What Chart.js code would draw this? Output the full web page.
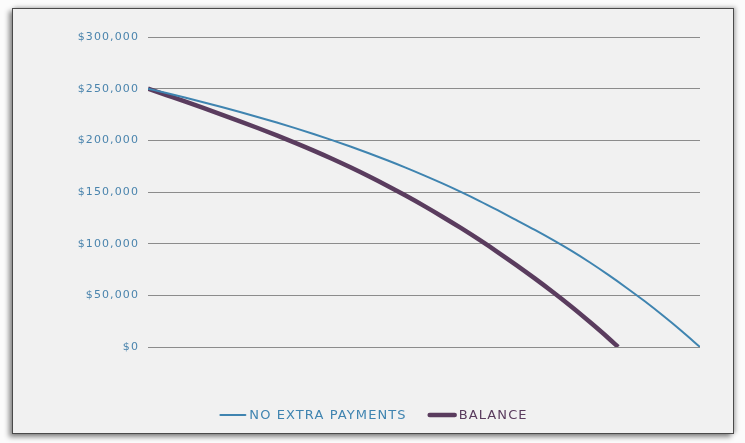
<!DOCTYPE html>
<html>
<head>
<meta charset="utf-8">
<script src="https://cdn.jsdelivr.net/npm/chart.js@4/dist/chart.umd.min.js"></script>
<style>
  html,body{margin:0;padding:0;background:#fbfbfb;}
  .frame{position:absolute;left:12px;top:8px;width:720px;height:424px;
    border:1px solid #4a4a4a;background:#f1f1f1;
    box-shadow:-3px 3px 5px rgba(0,0,0,0.45), 2px -1px 4px rgba(0,0,0,0.25);}
  .wrap{position:absolute;left:0;top:0;width:745px;height:443px;}
</style>
</head>
<body>
<div class="frame"></div>
<div class="wrap"><canvas id="amortChart"></canvas></div>
<script>
// years into the loan
const years = [0,1,2,3,4,5,6,7,8,9,10,11,12,13,14,15,16,17,18,19,20,21,22,23,24,25,26,27,28,29,30];
const balanceYears = [0,1,2,3,4,5,6,7,8,9,10,11,12,13,14,15,16,17,18,19,20,21,22,23,24,25,25.55];

// remaining balance, no extra payments
const noExtraPayments = [250000,245800,241400,236900,232200,227400,222400,217200,211800,206100,
  200200,194000,187500,180700,173600,166100,158300,150100,141500,132400,
  123000,113500,103600,93200,82000,70000,57400,44200,30200,15500,0];

// remaining balance with extra payments
const balance = [250000,243800,237600,231300,224900,218400,211700,204800,197600,190100,
  182200,173900,165200,156100,146600,136600,126100,115200,103800,91900,
  79500,66600,53200,39200,24400,9000,0];

const yTicks = [0,50000,100000,150000,200000,250000,300000];

const blue = '#3f84b0';
const purple = '#5a3c5e';

function toPoints(xs, ys){
  return xs.map((x,i)=>({x:x, y:ys[i]}));
}

// wide, tracked lettering like the original
const spacing = {
  id:'spacing',
  beforeUpdate(chart){ chart.ctx.letterSpacing = '1.1px'; },
  beforeDraw(chart){ chart.ctx.letterSpacing = '1.1px'; }
};

// legend drawn by hand: short line sample sitting right against the label
const lineLegend = {
  id:'lineLegend',
  afterDraw(chart){
    const ctx = chart.ctx;
    ctx.save();
    ctx.letterSpacing = '1.1px';
    ctx.font = '13px "DejaVu Sans"';
    ctx.textBaseline = 'middle';
    ctx.textAlign = 'left';
    const y = 415;
    const items = chart.data.datasets.map(ds=>({
      text: ds.label, color: ds.borderColor, lw: ds.borderWidth,
      w: 27 + 3 + ctx.measureText(ds.label).width
    }));
    const gap = 22;
    const total = items.reduce((s,it)=>s+it.w,0) + gap*(items.length-1);
    let x = (chart.width - total)/2 + 1;
    items.forEach(it=>{
      ctx.strokeStyle = it.color;
      ctx.lineWidth = it.lw;
      ctx.lineCap = 'round';
      ctx.beginPath();
      ctx.moveTo(x+1, y);
      ctx.lineTo(x+26, y);
      ctx.stroke();
      ctx.fillStyle = it.color;
      ctx.fillText(it.text, x+30, y+1);
      x += it.w + gap;
    });
    ctx.restore();
  }
};

new Chart(document.getElementById('amortChart'), {
  type:'line',
  plugins:[spacing, lineLegend],
  data:{
    datasets:[{
      label:'NO EXTRA PAYMENTS',
      data: toPoints(years, noExtraPayments),
      borderColor: blue,
      backgroundColor: blue,
      borderWidth: 2,
      pointRadius: 0,
      cubicInterpolationMode:'monotone'
    },{
      label:'BALANCE',
      data: toPoints(balanceYears, balance),
      borderColor: purple,
      backgroundColor: purple,
      borderWidth: 4.5,
      pointRadius: 0,
      cubicInterpolationMode:'monotone'
    }]
  },
  options:{
    responsive:true,
    maintainAspectRatio:false,
    animation:false,
    layout:{ padding:{ left:0, right:45, top:37, bottom:96 } },
    scales:{
      x:{
        type:'linear', min:0, max:30,
        display:false
      },
      y:{
        min:0, max:300000,
        afterBuildTicks: s => { s.ticks = yTicks.map(v=>({value:v})); },
        afterFit: s => { s.width = 148; },
        grid:{ color:'#8c8c8c', lineWidth:1, drawTicks:false },
        border:{ display:false },
        ticks:{
          padding:9,
          color:'#4a84ad',
          font:{ family:'DejaVu Sans', size:11 },
          callback: v => '$' + v.toLocaleString('en-US')
        }
      }
    },
    plugins:{
      tooltip:{enabled:false},
      legend:{ display:false }
    }
  }
});
</script>
</body>
</html>
